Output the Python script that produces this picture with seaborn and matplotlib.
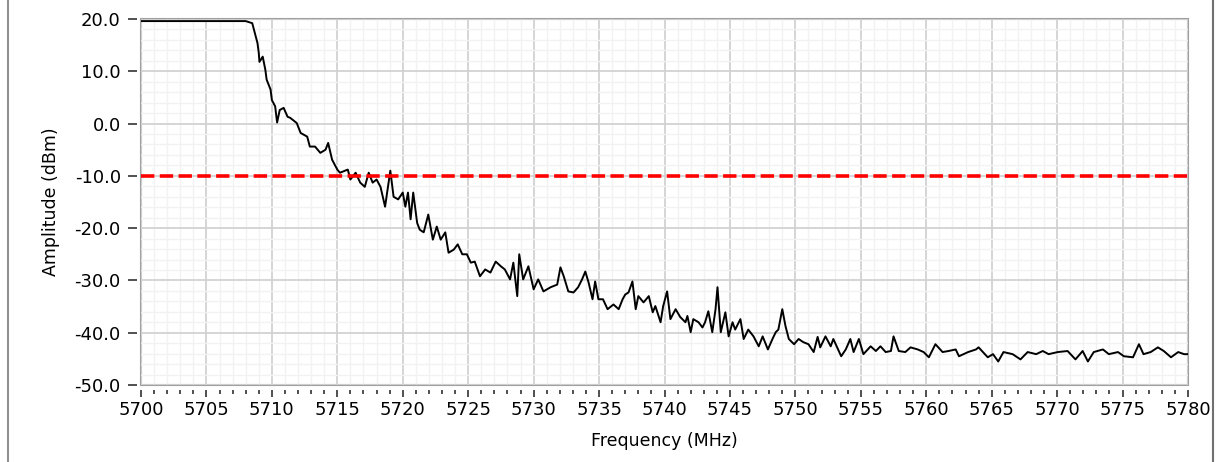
import numpy as np
import pandas as pd
import matplotlib
matplotlib.use("Agg")
import matplotlib.pyplot as plt
import seaborn as sns
from matplotlib.ticker import MultipleLocator, FormatStrFormatter
from matplotlib.lines import Line2D

# ---- data ----
freq_mhz = [
    5700.0, 5705.0, 5708.0, 5708.5, 5708.7, 5708.9, 5709.0, 5709.05, 5709.3, 5709.5,
    5709.6, 5709.9, 5710.0, 5710.25, 5710.4, 5710.6, 5710.9, 5711.2, 5711.4, 5711.9,
    5712.2, 5712.7, 5712.9, 5713.3, 5713.7, 5714.1, 5714.3, 5714.6, 5715.0, 5715.2,
    5715.8, 5716.0, 5716.4, 5716.75, 5717.1, 5717.4, 5717.7, 5718.0, 5718.3, 5718.65,
    5719.05, 5719.3, 5719.65, 5720.0, 5720.2, 5720.4, 5720.6, 5720.8, 5721.1, 5721.3,
    5721.6, 5721.95, 5722.3, 5722.6, 5722.9, 5723.25, 5723.5, 5723.9, 5724.2, 5724.55,
    5724.9, 5725.2, 5725.5, 5725.9, 5726.3, 5726.7, 5727.1, 5727.5, 5727.8, 5728.2,
    5728.45, 5728.75, 5728.9, 5729.2, 5729.6, 5730.0, 5730.35, 5730.75, 5731.3, 5731.8,
    5732.05, 5732.3, 5732.65, 5733.05, 5733.4, 5733.7, 5733.95, 5734.2, 5734.5, 5734.7,
    5734.95, 5735.3, 5735.65, 5736.1, 5736.5, 5736.8, 5737.0, 5737.25, 5737.55, 5737.8,
    5738.0, 5738.4, 5738.8, 5739.1, 5739.3, 5739.7, 5739.9, 5740.2, 5740.45, 5740.85,
    5741.2, 5741.6, 5741.75, 5742.0, 5742.2, 5742.6, 5742.9, 5743.1, 5743.35, 5743.65,
    5743.9, 5744.05, 5744.3, 5744.65, 5744.9, 5745.2, 5745.4, 5745.8, 5746.05, 5746.4,
    5746.8, 5747.2, 5747.5, 5747.9, 5748.25, 5748.5, 5748.7, 5749.0, 5749.25, 5749.5,
    5749.9, 5750.25, 5750.6, 5751.0, 5751.4, 5751.7, 5751.9, 5752.3, 5752.7, 5752.9,
    5753.5, 5753.85, 5754.2, 5754.45, 5754.85, 5755.2, 5755.75, 5756.15, 5756.5, 5756.9,
    5757.3, 5757.5, 5757.9, 5758.4, 5758.8, 5759.35, 5759.8, 5760.2, 5760.7, 5761.25,
    5761.7, 5762.25, 5762.5, 5763.2, 5763.8, 5764.0, 5764.7, 5765.1, 5765.5, 5765.9,
    5766.6, 5767.2, 5767.75, 5768.4, 5768.9, 5769.35, 5770.05, 5770.8, 5771.4, 5771.95,
    5772.35, 5772.8, 5773.5, 5773.95, 5774.65, 5775.1, 5775.8, 5776.25, 5776.6, 5777.15,
    5777.7, 5778.15, 5778.7, 5779.25, 5779.7, 5780.0,
]
amplitude_dbm = [
    19.6, 19.6, 19.6, 19.2, 17.3, 15.4, 13.5, 11.8, 12.8, 10.3,
    8.4, 6.5, 4.5, 3.3, 0.2, 2.6, 3.0, 1.3, 1.1, 0.1,
    -1.8, -2.5, -4.4, -4.4, -5.6, -5.0, -3.7, -6.9, -8.8, -9.4,
    -8.8, -10.7, -9.4, -11.3, -12.1, -9.4, -11.3, -10.7, -12.1, -15.9,
    -9.0, -14.0, -14.5, -13.2, -15.9, -13.2, -18.3, -13.2, -19.0, -20.3,
    -20.8, -17.4, -22.2, -19.7, -22.2, -20.8, -24.7, -24.1, -23.1, -25.0,
    -25.0, -26.6, -26.4, -29.2, -27.9, -28.5, -26.4, -27.3, -27.9, -29.8,
    -26.6, -33.0, -25.0, -29.8, -27.3, -31.7, -29.8, -32.1, -31.3, -30.8,
    -27.5, -29.2, -32.1, -32.3, -31.3, -29.8, -28.3, -30.4, -33.6, -30.2,
    -33.6, -33.6, -35.5, -34.6, -35.5, -33.6, -32.7, -32.3, -30.2, -35.5,
    -33.0, -34.2, -33.0, -36.1, -34.9, -38.0, -34.9, -32.1, -37.4, -35.5,
    -37.0, -38.0, -36.8, -39.9, -37.4, -38.0, -39.0, -38.0, -35.9, -39.9,
    -35.5, -31.3, -39.9, -36.1, -40.7, -38.0, -39.4, -37.4, -41.2, -39.4,
    -40.7, -42.6, -40.7, -43.2, -41.2, -39.9, -39.4, -35.5, -38.8, -41.2,
    -42.2, -41.2, -41.8, -42.2, -43.7, -40.8, -42.8, -40.7, -42.6, -41.2,
    -44.5, -43.2, -41.2, -43.7, -41.2, -44.1, -42.6, -43.5, -42.6, -43.7,
    -43.5, -40.7, -43.5, -43.7, -42.8, -43.2, -43.7, -44.7, -42.2, -43.7,
    -43.5, -43.2, -44.5, -43.7, -43.2, -42.8, -44.7, -44.1, -45.5, -43.7,
    -44.1, -45.1, -43.7, -44.1, -43.5, -44.1, -43.7, -43.5, -45.1, -43.5,
    -45.5, -43.7, -43.2, -44.1, -43.7, -44.5, -44.7, -42.2, -44.1, -43.7,
    -42.8, -43.5, -44.7, -43.7, -44.1, -44.1,
]
threshold_dbm = -10.0

df = pd.DataFrame({"freq": freq_mhz, "amp": amplitude_dbm})

sns.set_style("white")
plt.rcParams['font.family'] = ['DejaVu Sans']
plt.rcParams['text.color'] = 'black'
plt.rcParams['axes.labelcolor'] = 'black'

fig = plt.figure(figsize=(12.16, 4.62), dpi=100)
ax = fig.add_axes([141/1216, 1 - 385/462, (1188-141)/1216, (385-19)/462])

# grid
ax.xaxis.set_major_locator(MultipleLocator(5))
ax.xaxis.set_minor_locator(MultipleLocator(1))
ax.yaxis.set_major_locator(MultipleLocator(10))
ax.yaxis.set_minor_locator(MultipleLocator(2))
ax.grid(which='major', color='#d2d2d2', linewidth=1.3, zorder=0)
ax.grid(which='minor', color='#f2f2f2', linewidth=1.0, zorder=0)
ax.set_axisbelow(True)

sns.lineplot(data=df, x="freq", y="amp", color='black', linewidth=1.4, ax=ax,
             estimator=None, sort=False, zorder=3)
ax.axhline(threshold_dbm, color='#ff0000', linewidth=2.6,
           linestyle=(0, (3.7, 1.5)), zorder=4)

ax.set_xlim(5700, 5780)
ax.set_ylim(-50, 20)
ax.yaxis.set_major_formatter(FormatStrFormatter('%.1f'))

# frame + ticks set a bit apart from plot area
for s in ['left', 'bottom', 'top', 'right']:
    ax.spines[s].set_visible(False)
ax.spines['left'].set_position(('outward', 3))
ax.spines['bottom'].set_position(('outward', 3.6))
ax.patch.set_edgecolor('#a0a0a0')
ax.patch.set_linewidth(1.5)

ax.tick_params(axis='x', which='major', direction='out', length=5, width=1.1,
               color='#202020', labelcolor='black', labelsize=13, pad=3, bottom=True)
ax.tick_params(axis='x', which='minor', direction='out', length=2.9, width=1.1,
               color='#202020', bottom=True)
ax.tick_params(axis='y', which='major', direction='out', length=6.5, width=1.1,
               color='#202020', labelcolor='black', labelsize=13, pad=5, left=True)
ax.tick_params(axis='y', which='minor', length=0)

ax.set_xlabel("Frequency (MHz)", fontsize=12.5, color='black')
ax.set_ylabel("Amplitude (dBm)", fontsize=12.5, color='black')
ax.xaxis.set_label_coords(0.5, -0.128)
ax.yaxis.set_label_coords(-0.0774, 0.5)

# outer panel border lines
fig.add_artist(Line2D([7.5/1216, 7.5/1216], [0, 1], color='#909090', linewidth=1.5))
fig.add_artist(Line2D([1213/1216, 1213/1216], [0, 1], color='#707070', linewidth=1.5))

fig.savefig("out.png", dpi=100)
